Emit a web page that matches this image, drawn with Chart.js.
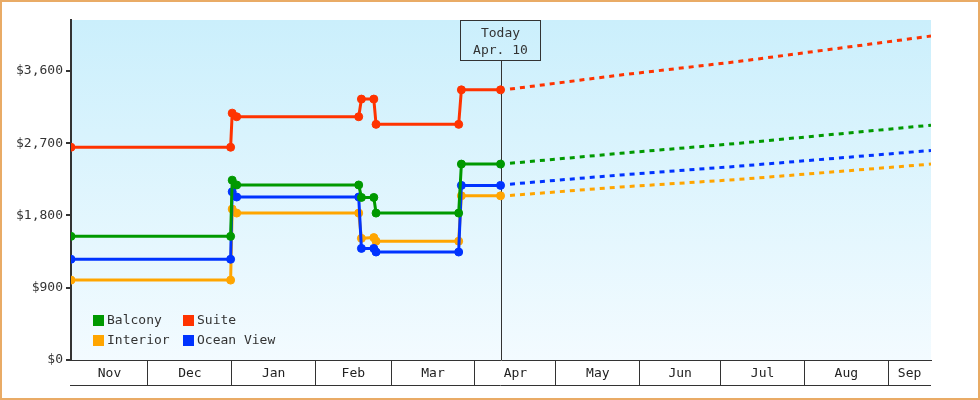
<!DOCTYPE html>
<html>
<head>
<meta charset="utf-8">
<title>Cabin prices</title>
<script src="https://cdn.jsdelivr.net/npm/chart.js@4.4.0/dist/chart.umd.min.js"></script>
<style>
  html, body { margin: 0; padding: 0; background: #fff; }
  canvas { display: block; outline: 2px solid #e9ab66; outline-offset: -2px; }
</style>
</head>
<body>
<canvas id="priceChart" width="980" height="400"></canvas>
<script>
// price history (one value per date below)
const histDates = ['2022-11-02T12:00', '2022-12-31T14:00', '2023-01-01T04:00', '2023-01-02T20:00',
  '2023-02-17T00:00', '2023-02-18T00:00', '2023-02-22T14:00', '2023-02-23T10:00',
  '2023-03-26T00:00', '2023-03-27T00:00', '2023-04-10T12:00'];
const suite     = [2650, 2650, 3075, 3030, 3030, 3250, 3250, 2935, 2935, 3365, 3365];
const balcony   = [1540, 1540, 2240, 2180, 2180, 2025, 2025, 1830, 1830, 2440, 2440];
const oceanView = [1255, 1255, 2095, 2030, 2030, 1390, 1390, 1345, 1345, 2175, 2175];
const interior  = [995, 995, 1880, 1830, 1830, 1515, 1525, 1480, 1480, 2045, 2045];

// forecast (dashed)
const forecastDates = ['2023-04-14T00:00', '2023-05-25T00:00', '2023-07-08T00:00', '2023-09-16T20:00'];
const suiteForecast     = [3375, 3550, 3720, 4035];
const balconyForecast   = [2450, 2575, 2700, 2925];
const oceanViewForecast = [2190, 2305, 2415, 2610];
const interiorForecast  = [2050, 2155, 2250, 2440];

const monthStarts = ['2022-12-01', '2023-01-01', '2023-02-01', '2023-03-01', '2023-04-01',
  '2023-05-01', '2023-06-01', '2023-07-01', '2023-08-01', '2023-09-01'];
const monthLabels = ['Nov', 'Dec', 'Jan', 'Feb', 'Mar', 'Apr', 'May', 'Jun', 'Jul', 'Aug', 'Sep'];
const yTicks = [0, 900, 1800, 2700, 3600];
const xStart = '2022-11-02T12:00';
const xEnd = '2023-09-16T20:00';
const yMax = 4235;
const today = '2023-04-10T12:00';
const todayLabel = ['Today', 'Apr. 10'];

const colors = { Suite: '#ff3300', Balcony: '#009900', 'Ocean View': '#0033ff', Interior: '#ffa500' };
const legendOrder = ['Balcony', 'Suite', 'Interior', 'Ocean View'];
const FONT = "'DejaVu Sans Mono', monospace";
const INK = '#333';

const t = s => Date.parse(s.length === 10 ? s + 'T00:00:00Z' : s + ':00Z');
const pts = (dates, vals) => dates.map((d, i) => ({ x: t(d), y: vals[i] }));

// tick values: month boundaries (separator lines) + midpoints (labels)
const bounds = [t(xStart), ...monthStarts.map(t), t(xEnd)];
const boundSet = new Set(monthStarts.map(t));
const midLabel = new Map();
for (let i = 0; i < monthLabels.length; i++) midLabel.set((bounds[i] + bounds[i + 1]) / 2, monthLabels[i]);

function histSet(label, vals) {
  const c = colors[label];
  return {
    label, data: pts(histDates, vals), borderColor: c, backgroundColor: c,
    borderWidth: 3, pointRadius: 4, pointHoverRadius: 4, pointBackgroundColor: c,
    pointBorderColor: c, pointBorderWidth: 1, tension: 0
  };
}
function forecastSet(label, vals) {
  const c = colors[label];
  return {
    label: label + ' forecast', data: pts(forecastDates, vals), borderColor: c,
    borderWidth: 3, borderDash: [5, 5], pointRadius: 0, tension: 0
  };
}

const plotBackground = {
  id: 'plotBackground',
  beforeDraw(chart) {
    const { ctx, chartArea: a } = chart;
    ctx.save();
    ctx.fillStyle = '#fff';
    ctx.fillRect(0, 0, chart.width, chart.height);
    const g = ctx.createLinearGradient(0, a.top, 0, a.bottom);
    g.addColorStop(0, '#cbeffc');
    g.addColorStop(1, '#f3fbff');
    ctx.fillStyle = g;
    ctx.fillRect(a.left, a.top, a.right - a.left, a.bottom - a.top);
    ctx.restore();
  }
};

const todayMarker = {
  id: 'todayMarker',
  beforeDatasetsDraw(chart) {
    const { ctx, chartArea: a } = chart;
    const x = Math.round(chart.scales.x.getPixelForValue(t(today))) + 0.5;
    ctx.save();
    ctx.strokeStyle = INK;
    ctx.lineWidth = 1;
    ctx.beginPath();
    ctx.moveTo(x, a.top + 40);
    ctx.lineTo(x, a.bottom);
    ctx.stroke();
    ctx.restore();
  },
  afterDraw(chart) {
    const { ctx, chartArea: a } = chart;
    const x = Math.round(chart.scales.x.getPixelForValue(t(today))) - 0.5;
    ctx.save();
    ctx.strokeStyle = INK;
    ctx.lineWidth = 1;
    ctx.strokeRect(x - 40, a.top + 0.5, 80, 40);
    ctx.fillStyle = INK;
    ctx.font = '13px ' + FONT;
    ctx.textAlign = 'center';
    ctx.textBaseline = 'middle';
    ctx.fillText(todayLabel[0], x, a.top + 14);
    ctx.fillText(todayLabel[1], x, a.top + 31);
    // bottom edge of the month strip
    ctx.beginPath();
    ctx.moveTo(a.left - 1, a.bottom + 25.5);
    ctx.lineTo(a.right, a.bottom + 25.5);
    ctx.stroke();
    ctx.restore();
  }
};

const boxLegend = {
  id: 'boxLegend',
  afterDatasetsDraw(chart) {
    const { ctx, chartArea: a } = chart;
    ctx.save();
    ctx.font = '13px ' + FONT;
    ctx.textBaseline = 'middle';
    ctx.textAlign = 'left';
    legendOrder.forEach((name, i) => {
      const ds = chart.data.datasets.find(d => d.label === name);
      const x = a.left + 22 + (i % 2) * 90;
      const y = a.bottom - 45 + Math.floor(i / 2) * 20;
      ctx.fillStyle = ds.borderColor;
      ctx.fillRect(x, y, 11, 11);
      ctx.fillStyle = INK;
      ctx.fillText(ds.label, x + 14, y + 6);
    });
    ctx.restore();
  }
};

new Chart(document.getElementById('priceChart'), {
  type: 'line',
  data: {
    datasets: [
      histSet('Suite', suite),
      histSet('Balcony', balcony),
      histSet('Ocean View', oceanView),
      histSet('Interior', interior),
      forecastSet('Suite', suiteForecast),
      forecastSet('Balcony', balconyForecast),
      forecastSet('Ocean View', oceanViewForecast),
      forecastSet('Interior', interiorForecast)
    ]
  },
  options: {
    responsive: false,
    animation: false,
    events: [],
    layout: { padding: { top: 20, right: 49, left: 0, bottom: 0 } },
    plugins: { legend: { display: false }, tooltip: { enabled: false } },
    scales: {
      x: {
        type: 'linear',
        min: t(xStart),
        max: t(xEnd),
        afterBuildTicks(scale) {
          const vals = [...boundSet, ...midLabel.keys()].sort((p, q) => p - q);
          scale.ticks = vals.map(v => ({ value: v }));
        },
        afterFit(scale) { scale.height = 40; },
        border: { display: true, color: INK, width: 1 },
        grid: {
          drawOnChartArea: false,
          drawTicks: true,
          tickLength: 25,
          lineWidth: 1,
          color: ctx => (ctx.tick && boundSet.has(ctx.tick.value)) ? INK : 'rgba(0,0,0,0)'
        },
        ticks: {
          autoSkip: false,
          maxRotation: 0,
          padding: -19,
          color: '#222',
          font: { family: FONT, size: 13 },
          callback: v => midLabel.get(v) || ''
        }
      },
      y: {
        min: 0,
        max: yMax,
        afterBuildTicks(scale) { scale.ticks = yTicks.map(v => ({ value: v })); },
        afterFit(scale) { scale.width = 71; },
        border: { display: true, color: INK, width: 2 },
        grid: { drawOnChartArea: false, tickLength: 5, lineWidth: 2, color: INK },
        ticks: {
          padding: 3,
          color: INK,
          font: { family: FONT, size: 13 },
          callback: v => '$' + v.toLocaleString('en-US')
        }
      }
    }
  },
  plugins: [plotBackground, todayMarker, boxLegend]
});
</script>
</body>
</html>
